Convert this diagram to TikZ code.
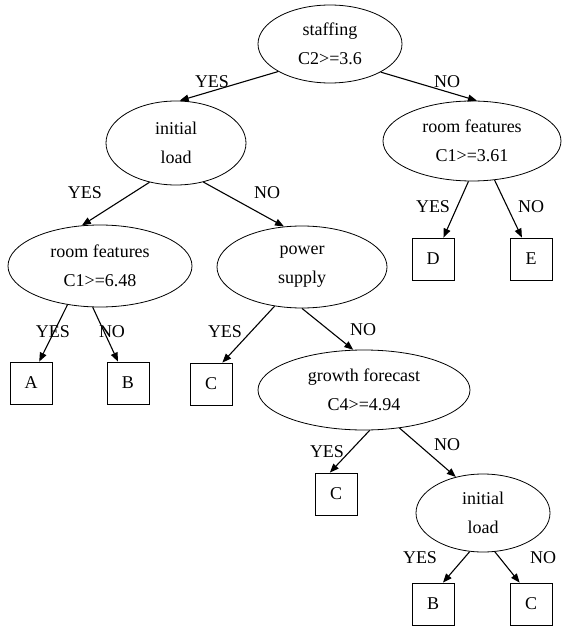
\documentclass[tikz,border=0pt]{standalone}
\usepackage{fontspec}
\setmainfont{Liberation Serif}
\usetikzlibrary{shapes.geometric,arrows.meta}

\tikzset{
  test/.style={ellipse, draw, line width=0.8pt, inner sep=0pt, align=center, minimum height=80pt},
  leaf/.style={rectangle, draw, line width=0.8pt, minimum size=42pt, inner sep=0pt},
  branch/.style={line width=1.1pt, -{Triangle[length=9pt,width=7pt]}}
}

\begin{document}
\begin{tikzpicture}[x=1pt,y=-1pt,font=\fontsize{18}{29}\selectfont]
\useasboundingbox (0,0) rectangle (563,628);

\node[test, minimum width=144pt, minimum height=78pt] (staff) at (330,44) {staffing\\C2>=3.6};
\node[test, minimum width=140pt, minimum height=84pt] (init1) at (176,143) {initial\\load};
\node[test, minimum width=178pt] (room1) at (472,141) {room features\\C1>=3.61};
\node[test, minimum width=184pt, minimum height=82pt] (room2) at (100,266) {room features\\C1>=6.48};
\node[test, minimum width=170pt, minimum height=82pt] (power) at (302,267) {power\\supply};
\node[test, minimum width=212pt] (growth) at (364,390) {growth forecast\\C4>=4.94};
\node[test, minimum width=134pt, minimum height=78pt] (init2) at (483,513) {initial\\load};

\node[leaf] (A) at (31,383) {A};
\node[leaf] (B1) at (128,383) {B};
\node[leaf] (C1) at (211,384) {C};
\node[leaf] (D) at (433,259) {D};
\node[leaf] (E) at (531,259) {E};
\node[leaf] (C2) at (336,494) {C};
\node[leaf] (B2) at (433,604) {B};
\node[leaf] (C3) at (531,604) {C};

\begin{scope}[branch]
\draw (staff.208) -- (init1.85);
\draw (staff.331) -- (room1.83);
\draw (init1.236) -- (room2.114);
\draw (init1.305) -- (power.114);
\draw (room2.230) -- (A.69);
\draw (room2.260) -- (B1.115);
\draw (power.235) -- (C1.62);
\draw (power.270) -- (growth.105);
\draw (room1.265) -- (D.64);
\draw (room1.300) -- (E.113);
\draw (growth.278) -- (C2.106);
\draw (growth.313) -- (init2.127);
\draw (init2.251) -- (B2.65);
\draw (init2.287) -- (C3.118);
\end{scope}

\node (yes1) at (212,82) {YES};
\node (no1) at (447,82) {NO};
\node (yes2) at (85,193) {YES};
\node (no2) at (267,193) {NO};
\node (yes3) at (53,332) {YES};
\node (no3) at (112,332) {NO};
\node (yes4) at (225,332) {YES};
\node (no4) at (363,330) {NO};
\node (yes5) at (433,207) {YES};
\node (no5) at (531,207) {NO};
\node (yes6) at (327,452) {YES};
\node (no6) at (447,445) {NO};
\node (yes7) at (420,558) {YES};
\node (no7) at (543,558) {NO};
\end{tikzpicture}
\end{document}
